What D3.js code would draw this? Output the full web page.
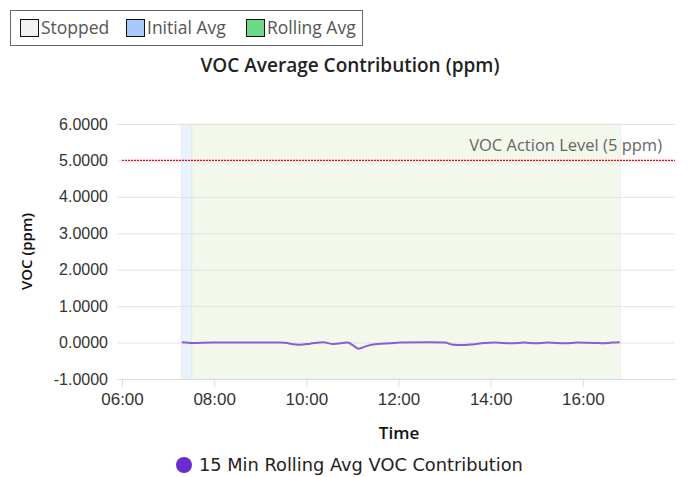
<!DOCTYPE html>
<html>
<head>
<meta charset="UTF-8">
<style>
  body { margin: 0; background: #fff; }
  svg { display: block; font-family: "Open Sans", "Noto Sans", sans-serif; }
</style>
</head>
<body>
<svg></svg>
<script src="https://cdn.jsdelivr.net/npm/d3@7"></script>
<script>
const W = 692, H = 477;
const margin = { top: 124, right: 17, bottom: 98, left: 122 };

// data
const times = ["07:18","07:32","07:58","08:30","09:00","09:26","09:52","10:05","10:22","10:35","10:54","11:01","11:08","11:19","11:32","11:49","12:02","12:38","13:00","13:11","13:23","13:36","13:52","14:05","14:28","14:44","14:58","15:14","15:37","15:53","16:16","16:26","16:38","16:48"];
const values = [0.01,-0.01,0.0,0.0,0.0,0.0,-0.06,-0.03,0.01,-0.04,0.0,-0.08,-0.17,-0.09,-0.04,-0.02,0.0,0.01,0.0,-0.06,-0.07,-0.05,-0.01,0.0,-0.02,0.0,-0.02,0.0,-0.02,0.0,-0.01,-0.02,0.0,0.01];
const yTicks = [-1, 0, 1, 2, 3, 4, 5, 6];
const xTicks = ["06:00","08:00","10:00","12:00","14:00","16:00"];
const xDomain = ["06:00", "18:00"];
const initialBand = ["07:17", "07:31"];
const rollingBand = ["07:31", "16:49"];
const actionLevel = 5;
const legendItems = ["Stopped", "Initial Avg", "Rolling Avg"];
const legendColors = ["#f2f2f2", "#a7c8f8", "#6fd98a"];

const parseT = d3.timeParse("%H:%M");
const svg = d3.select("svg").attr("width", W).attr("height", H);

const x = d3.scaleTime()
  .domain(xDomain.map(parseT))
  .range([margin.left, W - margin.right]);
const y = d3.scaleLinear()
  .domain([-1, 6])
  .range([H - margin.bottom, margin.top]);

// bands
const bands = [[initialBand, "#e8f3fc"], [rollingBand, "#f3f8ec"]];
svg.append("g").selectAll("rect")
  .data(bands)
  .join("rect")
  .attr("x", d => x(parseT(d[0][0])))
  .attr("width", d => x(parseT(d[0][1])) - x(parseT(d[0][0])))
  .attr("y", y(6))
  .attr("height", y(-1) - y(6))
  .attr("fill", d => d[1])
  .attr("stroke", "#dcdcdc")
  .attr("stroke-width", 0.8)
  .attr("stroke-dasharray", "1,1");

// y grid + axis
const fmt = d => d3.format(".4f")(d).replace("\u2212", "-");
const yAxis = d3.axisLeft(y)
  .tickValues(yTicks)
  .tickFormat(fmt)
  .tickSize(-(W - margin.left - margin.right))
  .tickPadding(14);
const gy = svg.append("g")
  .attr("transform", `translate(${margin.left},0)`)
  .call(yAxis);
gy.select(".domain").remove();
gy.selectAll(".tick line").attr("stroke", "#e2e2e2").attr("x1", -5);
gy.selectAll(".tick text").attr("fill", "#333").attr("font-size", 16);

// x axis
const xAxis = d3.axisBottom(x)
  .tickValues(xTicks.map(parseT))
  .tickFormat(d3.timeFormat("%H:%M"))
  .tickSize(8)
  .tickSizeOuter(0)
  .tickPadding(6);
const gx = svg.append("g")
  .attr("transform", `translate(0,${y(-1)})`)
  .call(xAxis);
gx.select(".domain").attr("stroke", "#dcdcdc");
gx.selectAll(".tick line").attr("stroke", "#dcdcdc");
gx.selectAll(".tick text").attr("fill", "#333").attr("font-size", 17);

// action level
svg.append("line")
  .attr("x1", margin.left).attr("x2", W - margin.right)
  .attr("y1", y(actionLevel)).attr("y2", y(actionLevel))
  .attr("stroke", "#f00")
  .attr("stroke-width", 1.2)
  .attr("stroke-dasharray", "2,1");
svg.append("text")
  .attr("x", 662)
  .attr("y", y(actionLevel) - 9)
  .attr("text-anchor", "end")
  .attr("font-size", 16.5)
  .attr("fill", "#666")
  .text("VOC Action Level (5 ppm)");

// line
const line = d3.line()
  .x((d, i) => x(parseT(times[i])))
  .y(d => y(d))
  .curve(d3.curveMonotoneX);
svg.append("path")
  .datum(values)
  .attr("d", line)
  .attr("fill", "none")
  .attr("stroke", "#8a5cd8")
  .attr("stroke-width", 2);

// title + labels
svg.append("text")
  .attr("x", 350).attr("y", 72)
  .attr("text-anchor", "middle")
  .attr("font-size", 19)
  .attr("font-weight", 600)
  .attr("fill", "#222")
  .text("VOC Average Contribution (ppm)");
svg.append("text")
  .attr("transform", `translate(32,${(y(6) + y(-1)) / 2}) rotate(-90)`)
  .attr("text-anchor", "middle")
  .attr("font-size", 15)
  .attr("font-weight", 600)
  .attr("fill", "#111")
  .text("VOC (ppm)");
svg.append("text")
  .attr("x", 399).attr("y", 439)
  .attr("text-anchor", "middle")
  .attr("font-size", 17)
  .attr("font-weight", 600)
  .attr("fill", "#111")
  .text("Time");

// top legend
svg.append("rect")
  .attr("x", 10.5).attr("y", 10.5)
  .attr("width", 352).attr("height", 35)
  .attr("fill", "#fff")
  .attr("stroke", "#666")
  .attr("stroke-width", 1);
const legendX = [20, 126, 246];
const lg = svg.append("g").selectAll("g")
  .data(legendItems)
  .join("g")
  .attr("transform", (d, i) => `translate(${legendX[i]},19)`);
lg.append("rect")
  .attr("x", 0.5).attr("y", 0.5)
  .attr("width", 18).attr("height", 17)
  .attr("fill", (d, i) => legendColors[i])
  .attr("stroke", "#111")
  .attr("stroke-width", 1);
lg.append("text")
  .attr("x", 21).attr("y", 15)
  .attr("font-size", 17.5)
  .attr("fill", "#555")
  .text(d => d);

// bottom legend
svg.append("circle")
  .attr("cx", 184).attr("cy", 465).attr("r", 8)
  .attr("fill", "#6a2ccf");
svg.append("text")
  .attr("x", 199).attr("y", 471)
  .attr("font-family", "DejaVu Sans")
  .attr("font-size", 17.8)
  .attr("fill", "#222")
  .text("15 Min Rolling Avg VOC Contribution");
</script>
</body>
</html>
